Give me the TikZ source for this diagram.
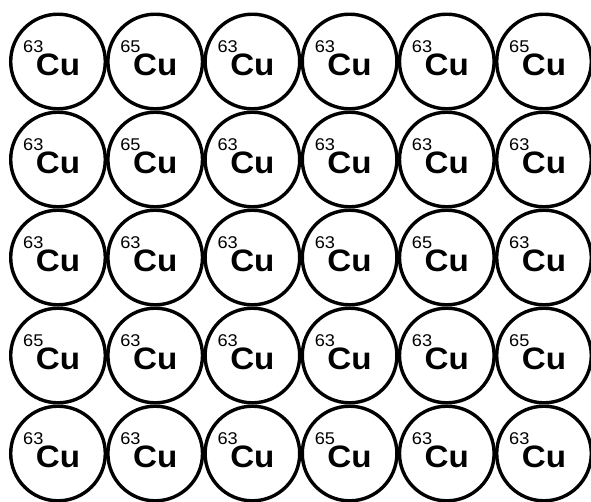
\documentclass[tikz,border=0pt]{standalone}
\usepackage{fontspec}
\setmainfont{Liberation Sans}
\usetikzlibrary{positioning}
\tikzset{
atom/.style={circle,draw,line width=3.4pt,minimum size=94.6pt,inner sep=0pt,
  text height=27pt,text depth=0pt,
  font=\fontsize{31}{31}\selectfont\bfseries\addfontfeature{FakeStretch=1.07}},
}
\newcommand{\isotope}[1]{\llap{\raisebox{22.5pt}{\fontsize{17}{17}\selectfont\mdseries #1}\kern-7.5pt}Cu}

\begin{document}
\begin{tikzpicture}[x=1pt,y=1pt]
	\useasboundingbox (0,0) rectangle (591,-501);

	% mass numbers, one row of the lattice per entry
	\foreach \row [count=\r] in {{63,65,63,63,63,65},{63,65,63,63,63,63},
		{63,63,63,63,65,63},{65,63,63,63,63,65},{63,63,63,65,63,63}}
	{
		\foreach \mass [count=\c] in \row
			\node[atom] (cu-\r-\c) at ({58+97.2*(\c-1)},{-61.5-98*(\r-1)}) {\isotope{\mass}};
	}
\end{tikzpicture}
\end{document}
